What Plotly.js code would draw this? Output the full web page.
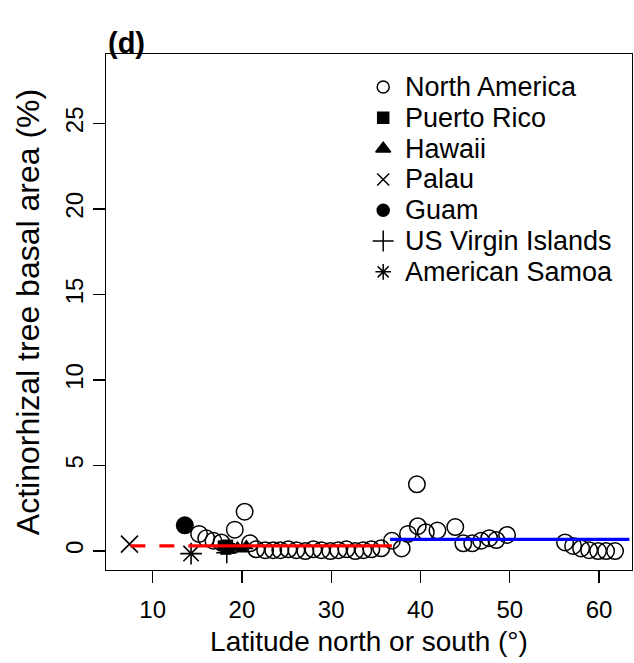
<!DOCTYPE html>
<html>
<head>
<meta charset="utf-8">
<script src="https://cdn.plot.ly/plotly-3.0.1.min.js"></script>
<style>html,body{margin:0;padding:0;background:#fff;}#chart{width:634px;height:663px;}</style>
</head>
<body>
<div id="chart"></div>
<script>
// ---- data ----
const naLat = [15.2, 16.0, 16.8, 17.7, 19.2, 20.3, 20.9, 21.6, 22.6, 23.5,
               24.3, 25.2, 26.1, 27.1, 28.0, 28.9, 29.9, 30.8, 31.7, 32.7, 33.6, 34.5,
               35.6, 36.8, 37.9, 38.6, 39.7, 39.6, 40.6, 41.9, 43.9, 44.8, 45.8, 46.8, 47.7, 48.5, 49.7,
               56.2, 57.1, 58.0, 58.9, 59.9, 60.8, 61.8];
const naVal = [1.0, 0.74, 0.6, 0.5, 1.25, 2.3, 0.45, 0.1, 0.05, 0.05,
               0.05, 0.1, 0.05, 0.0, 0.1, 0.05, 0.0, 0.05, 0.1, 0.0, 0.05, 0.1,
               0.16, 0.6, 0.15, 1.0, 1.45, 3.9, 1.1, 1.2, 1.4, 0.45, 0.45, 0.6, 0.75, 0.64, 0.94,
               0.5, 0.3, 0.15, 0.05, 0.0, 0.0, 0.0];
const prLat = [17.9, 18.2, 18.4, 18.6];
const prVal = [0.3, 0.1, 0.35, 0.15];
const hiLat = [19.5, 20.0, 20.5];
const hiVal = [0.2, 0.1, 0.3];
const paLat = [7.4];
const paVal = [0.4];
const guLat = [13.6];
const guVal = [1.5];
const viLat = [18.3];
const viVal = [-0.1];
const asLat = [14.3];
const asVal = [-0.15];

const dashFitLat = [7.5, 14.2];
const dashFitVal = [0.3, 0.3];
const redFitLat = [14.2, 36.8];
const redFitVal = [0.3, 0.3];
const blueFitLat = [36.6, 63.4];
const blueFitVal = [0.68, 0.68];

const xTicks = [10, 20, 30, 40, 50, 60];
const yTicks = [0, 5, 10, 15, 20, 25];
const legendLabels = ["North America", "Puerto Rico", "Hawaii", "Palau", "Guam", "US Virgin Islands", "American Samoa"];
const legendSymbols = ["circle-open", "square", "triangle-up", "x-thin-open", "circle", "cross-thin-open", "asterisk-open"];
const legendSizes = [12, 11, 13, 12, 12, 15, 13];

// ---- drawing ----
const FONT = "Liberation Sans, Arial, Helvetica, sans-serif";
const blk = "#000000";

function pts(x, y, symbol, size, lw) {
  return {x: x, y: y, type: "scatter", mode: "markers", showlegend: false, hoverinfo: "skip",
    marker: {symbol: symbol, size: size, color: blk, line: {color: blk, width: lw}}};
}
function fit(x, y, color, dash) {
  return {x: x, y: y, type: "scatter", mode: "lines", showlegend: false, hoverinfo: "skip",
    line: {color: color, width: 3.2, dash: dash}};
}

const traces = [
  pts(naLat, naVal, "circle-open", 16.5, 1.5),
  pts(prLat, prVal, "square", 11, 0),
  pts(hiLat, hiVal, "triangle-up", 13, 0),
  pts(paLat, paVal, "x-thin-open", 17, 1.6),
  pts(guLat, guVal, "circle", 18, 0),
  pts(viLat, viVal, "cross-thin-open", 15, 1.6),
  pts(asLat, asVal, "asterisk-open", 18, 1.6),
  fit(dashFitLat, dashFitVal, "#ff0000", "15px,14px"),
  fit(redFitLat, redFitVal, "#ff0000", "solid"),
  fit(blueFitLat, blueFitVal, "#0000ff", "solid")
];

// legend drawn on an overlay axis with 0..1 range
const legX = 0.527, legTop = 0.936, legStep = 0.0597, legTextX = 0.5646;
const legY = legendLabels.map((_, i) => legTop - i * legStep);
legendLabels.forEach((lab, i) => {
  traces.push({
    x: [legX], y: [legY[i]], xaxis: "x2", yaxis: "y2", type: "scatter", mode: "markers",
    showlegend: false, hoverinfo: "skip",
    marker: {symbol: legendSymbols[i], size: legendSizes[i], color: blk, line: {color: blk, width: 1.5}}
  });
});
const annotations = legendLabels.map((lab, i) => ({
  xref: "x2", yref: "y2", x: legTextX, y: legY[i], text: lab, showarrow: false,
  xanchor: "left", yanchor: "middle", font: {family: FONT, size: 27, color: blk}
}));

const layout = {
  width: 634, height: 663,
  margin: {l: 106, r: 2, t: 54, b: 93},
  paper_bgcolor: "#ffffff", plot_bgcolor: "#ffffff",
  font: {family: FONT, color: blk},
  title: {text: "(d)", x: 108 / 634, xanchor: "left", y: 1 - 43 / 663, yanchor: "middle",
    font: {family: FONT, size: 29, weight: "bold", color: blk}},
  xaxis: {range: [4.77, 63.7], tickmode: "array", tickvals: xTicks, ticks: "outside", ticklen: 12,
    tickwidth: 1.4, tickcolor: blk, showline: true, linecolor: blk, linewidth: 1.4, mirror: true,
    showgrid: false, zeroline: false, ticklabelstandoff: 6, tickfont: {family: FONT, size: 24, color: blk},
    title: {text: "Latitude north or south (°)", font: {family: FONT, size: 28, color: blk}, standoff: 9}},
  yaxis: {range: [-1.11, 29.06], tickmode: "array", tickvals: yTicks, ticks: "outside", ticklen: 12,
    tickwidth: 1.4, tickcolor: blk, showline: true, linecolor: blk, linewidth: 1.4, mirror: true,
    showgrid: false, zeroline: false, tickangle: -90, tickfont: {family: FONT, size: 24, color: blk},
    title: {text: "Actinorhizal tree basal area (%)", font: {family: FONT, size: 32, color: blk}, standoff: 12}},
  xaxis2: {overlaying: "x", range: [0, 1], visible: false, anchor: "y2"},
  yaxis2: {overlaying: "y", range: [0, 1], visible: false, anchor: "x2"},
  annotations: annotations,
  showlegend: false
};

Plotly.newPlot("chart", traces, layout, {staticPlot: true, displayModeBar: false});
</script>
</body>
</html>
